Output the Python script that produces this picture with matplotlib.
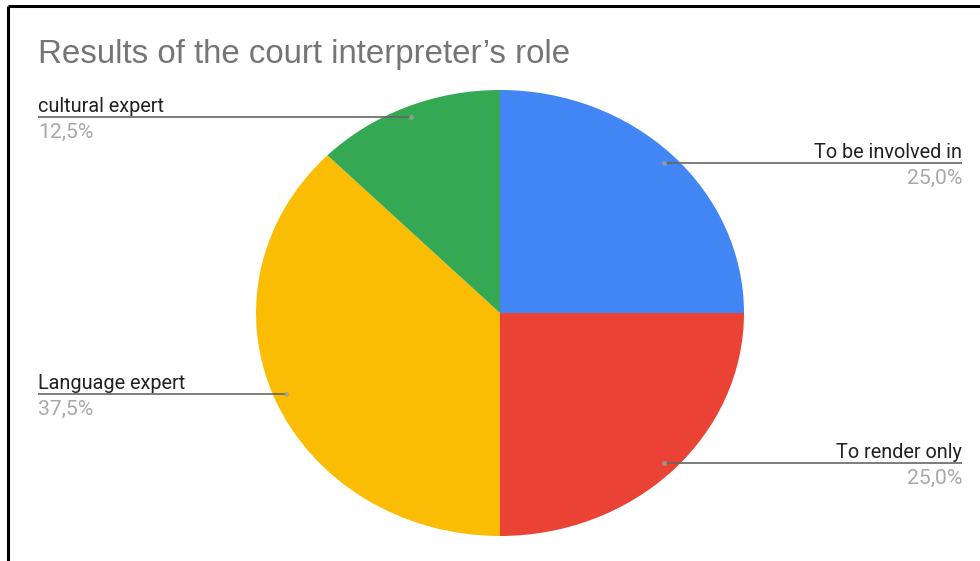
import matplotlib
matplotlib.use('Agg')
import numpy as np
import matplotlib.pyplot as plt

# slices, clockwise from 12 o'clock
labels = ['To be involved in', 'To render only', 'Language expert', 'cultural expert']
shares = [25.0, 25.0, 37.5, 12.5]
colors = ['#4285F4', '#EA4335', '#FBBC04', '#34A853']
title = 'Results of the court interpreter\u2019s role'

W, H = 980, 561
fig = plt.figure(figsize=(W / 100, H / 100), dpi=100)

# pixel overlay for text, leader lines and the frame
over = fig.add_axes([0, 0, 1, 1], zorder=2)
over.set_xlim(0, W)
over.set_ylim(H, 0)
over.axis('off')
over.patch.set_alpha(0)

# pie box in pixels (left, top, right, bottom)
pl, pt, pr, pb = 256, 90, 744, 536
ax = fig.add_axes([pl / W, (H - pb) / H, (pr - pl) / W, (pb - pt) / H], zorder=1)
wedges, _ = ax.pie(shares, colors=colors, startangle=90, counterclock=False,
                   radius=1, wedgeprops=dict(linewidth=0))
ax.set_aspect('auto')
ax.set_xlim(-1, 1)
ax.set_ylim(-1, 1)
ax.axis('off')

fig.canvas.draw()
to_over = ax.transData + over.transData.inverted()

lab_font = dict(family=['Roboto', 'DejaVu Sans'], fontsize=14.3)
pct_font = dict(family=['Roboto', 'DejaVu Sans'], fontsize=15.2)
for w, lab, val in zip(wedges, labels, shares):
    mid = np.deg2rad((w.theta1 + w.theta2) / 2)
    dx, dy = to_over.transform((0.95 * np.cos(mid), 0.95 * np.sin(mid)))
    right = np.cos(mid) > 0
    x_end = 962 if right else 38
    ha = 'right' if right else 'left'
    over.plot([dx, x_end], [dy, dy], color='#666666', lw=1.2, solid_capstyle='butt')
    over.plot(dx, dy, 'o', ms=3.5, color='#9aa0a6', mec='none', alpha=0.8)
    over.text(x_end, dy - 5, lab, ha=ha, va='baseline', color='#222222', **lab_font)
    pct = f'{val:.1f}%'.replace('.', ',')
    over.text(x_end, dy + 6, pct, ha=ha, va='top', color='#a8a8a8', **pct_font)

over.text(38, 63, title, ha='left', va='baseline', color='#757575',
          family=['Liberation Sans', 'DejaVu Sans'], fontsize=23.8)

# frame on the top and left edges
over.plot([7.5, W], [5.5, 5.5], color='black', lw=2.2, solid_capstyle='butt')
over.plot([7.5, 7.5], [5.5, H], color='black', lw=2.2, solid_capstyle='butt')

fig.savefig('out.png', dpi=100)
